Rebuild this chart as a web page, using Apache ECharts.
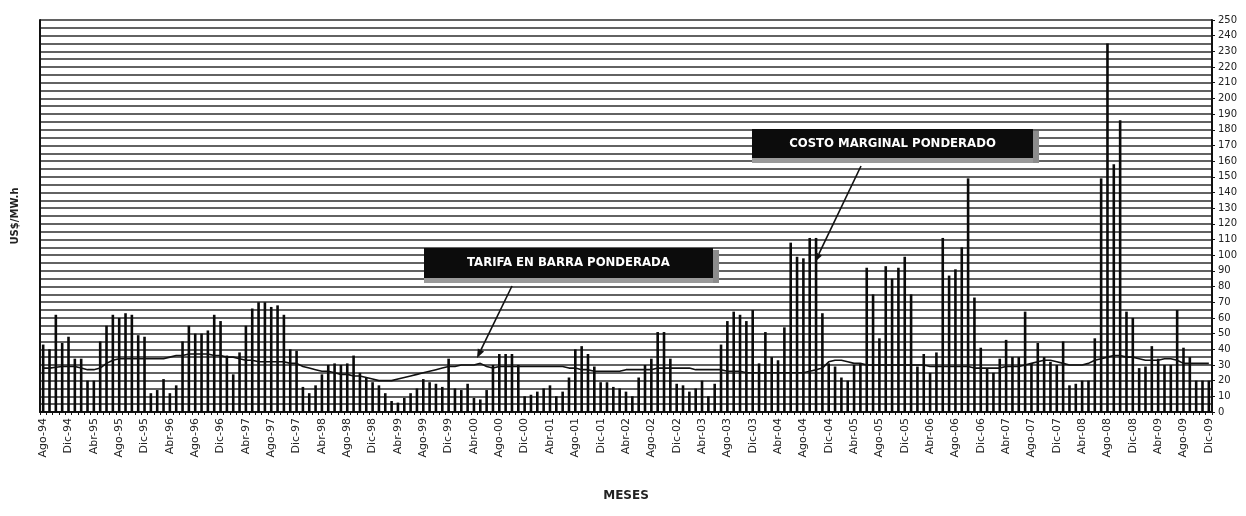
<!DOCTYPE html>
<html>
<head>
<meta charset="utf-8">
<title>Costo marginal y tarifa en barra ponderada</title>
<script src="https://cdn.jsdelivr.net/npm/echarts@6/dist/echarts.min.js"></script>
<style>
    html, body { margin: 0; padding: 0; background: #fff; }
    #chart { width: 1246px; height: 516px; }
</style>
</head>
<body>
<div id="chart"></div>
<script>
// Meses: Ago-94 .. Dic-09 (185 meses)
const nombresMes = ['Ene', 'Feb', 'Mar', 'Abr', 'May', 'Jun', 'Jul', 'Ago', 'Set', 'Oct', 'Nov', 'Dic'];
const anios = ['94', '95', '96', '97', '98', '99', '00', '01', '02', '03', '04', '05', '06', '07', '08', '09'];

// Costo marginal ponderado (US$/MW.h)
const costoMarginal = [
    43, 40, 62, 44, 48, 34, 34, 20, 20, 45,
    55, 62, 60, 63, 62, 49, 48, 12, 14, 21,
    12, 17, 45, 55, 50, 50, 52, 62, 58, 36,
    24, 38, 55, 66, 70, 70, 67, 68, 62, 40,
    39, 16, 12, 17, 24, 30, 31, 30, 31, 36,
    25, 22, 19, 17, 12, 7, 6, 9, 12, 15,
    21, 19, 18, 16, 34, 15, 14, 18, 9, 8,
    14, 30, 37, 37, 37, 30, 10, 11, 13, 15,
    17, 10, 13, 22, 40, 42, 37, 29, 19, 19,
    16, 15, 13, 10, 22, 30, 34, 51, 51, 34,
    18, 17, 13, 15, 20, 10, 18, 43, 58, 64,
    62, 58, 65, 31, 51, 35, 33, 54, 108, 99,
    98, 111, 111, 63, 31, 29, 22, 20, 30, 31,
    92, 75, 47, 93, 85, 92, 99, 75, 29, 37,
    25, 38, 111, 87, 91, 105, 149, 73, 41, 28,
    25, 34, 46, 35, 35, 64, 31, 44, 35, 32,
    30, 45, 17, 18, 20, 20, 47, 149, 235, 158,
    186, 64, 60, 28, 29, 42, 34, 30, 30, 65,
    41, 35, 20, 20, 20
];

// Tarifa en barra ponderada (US$/MW.h)
const tarifaBarra = [
    28, 28, 28.5, 29, 29, 29, 28, 27, 27, 28,
    31, 33, 34, 34, 34, 34, 34, 34, 34, 34,
    35, 36, 36, 37, 37, 37, 37, 36, 36, 35,
    35, 34, 33, 33, 32, 32, 32, 32, 32, 31,
    31, 29, 28, 27, 26, 26, 25, 24, 24, 23,
    23, 22, 21, 20, 20, 20, 21, 22, 23, 24,
    25, 26, 27, 28, 29, 29, 30, 30, 30, 31,
    29, 28, 29, 29, 29, 29, 29, 29, 29, 29,
    29, 29, 29, 28, 28, 27, 27, 26, 26, 26,
    26, 26, 27, 27, 27, 27, 27, 28, 28, 28,
    28, 28, 28, 27, 27, 27, 27, 27, 26, 26,
    26, 25, 25, 25, 25, 25, 25, 25, 25, 25,
    25, 26, 27, 28, 32, 33, 33, 32, 31, 31,
    30, 30, 30, 30, 30, 30, 30, 30, 30, 30,
    29, 29, 29, 29, 29, 29, 29, 28, 28, 28,
    28, 28, 29, 29, 29, 30, 31, 32, 33, 33,
    32, 31, 30, 30, 30, 31, 33, 34, 35, 36,
    36, 35, 35, 34, 33, 33, 33, 34, 34, 33,
    31, 31, 31, 31, 31
];

// categorías Ago-94 .. Dic-09
const meses = [];
anios.forEach((a, k) => {
    nombresMes.forEach((m, j) => {
        if (k === 0 && j < 7) return;
        meses.push(m + '-' + a);
    });
});

const chart = echarts.init(document.getElementById('chart'));

// flecha simple (línea + punta)
function flecha(x1, y1, x2, y2) {
    const dx = x2 - x1, dy = y2 - y1;
    const len = Math.sqrt(dx * dx + dy * dy);
    const ux = dx / len, uy = dy / len;
    const bx = x2 - ux * 9, by = y2 - uy * 9;
    const px = -uy * 3.5, py = ux * 3.5;
    return [
        { type: 'line', shape: { x1: x1, y1: y1, x2: bx, y2: by }, style: { stroke: '#111', lineWidth: 1.6 }, z: 100 },
        { type: 'polygon', shape: { points: [[x2, y2], [bx + px, by + py], [bx - px, by - py]] }, style: { fill: '#111' }, z: 100 }
    ];
}

// recuadro negro con texto blanco
function recuadro(x, y, w, h, texto) {
    return [
        { type: 'rect', shape: { x: x, y: y + h, width: w, height: 5 }, style: { fill: '#9a9a9a' }, z: 99 },
        { type: 'rect', shape: { x: x + w, y: y + 2, width: 6, height: h + 3 }, style: { fill: '#8c8c8c' }, z: 99 },
        { type: 'rect', shape: { x: x, y: y, width: w, height: h }, style: { fill: '#0c0c0c' }, z: 100 },
        {
            type: 'text', x: x + w / 2, y: y + h / 2, z: 101,
            style: {
                text: texto, fill: '#fff', align: 'center', verticalAlign: 'middle',
                font: 'bold 13px "DejaVu Sans Condensed", "Liberation Sans Narrow", sans-serif'
            }
        }
    ];
}

const lineaGrilla = { show: true, lineStyle: { color: '#2e2e2e', width: 1.7 } };

const option = {
    animation: false,
    backgroundColor: '#fff',
    grid: { left: 40, right: 34, top: 20, bottom: 104, containLabel: false },
    xAxis: {
        type: 'category',
        data: meses,
        name: 'MESES',
        nameLocation: 'middle',
        nameGap: 78,
        nameTextStyle: { fontFamily: 'DejaVu Sans', fontWeight: 'bold', fontSize: 12, color: '#222' },
        axisLine: { lineStyle: { color: '#111', width: 2 } },
        axisTick: { show: true, interval: 0, length: 3, lineStyle: { color: '#111' } },
        axisLabel: {
            interval: 3, rotate: 90, margin: 6,
            fontFamily: 'DejaVu Sans', fontSize: 11, color: '#222'
        },
        splitLine: { show: false }
    },
    yAxis: [
        {
            type: 'value',
            position: 'right',
            min: 0, max: 250, interval: 10,
            axisLine: { show: true, lineStyle: { color: '#111', width: 2 } },
            axisTick: { show: true, length: 3, lineStyle: { color: '#111' } },
            axisLabel: { margin: 6, fontFamily: 'DejaVu Sans', fontSize: 10, color: '#222' },
            splitLine: lineaGrilla,
            minorTick: { show: false, splitNumber: 2 },
            minorSplitLine: lineaGrilla
        },
        {
            type: 'value',
            position: 'left',
            min: 0, max: 250, interval: 10,
            name: 'US$/MW.h',
            nameLocation: 'middle',
            nameGap: 20,
            nameRotate: 90,
            nameTextStyle: { fontFamily: 'DejaVu Sans', fontWeight: 'bold', fontSize: 10, color: '#222' },
            axisLine: { show: true, lineStyle: { color: '#111', width: 2 } },
            axisTick: { show: false },
            axisLabel: { show: false },
            splitLine: { show: false }
        }
    ],
    series: [
        {
            name: 'Costo marginal ponderado',
            type: 'bar',
            yAxisIndex: 0,
            data: costoMarginal,
            barWidth: 2.6,
            itemStyle: { color: '#0a0a0a' },
            z: 3
        },
        {
            name: 'Tarifa en barra ponderada',
            type: 'line',
            yAxisIndex: 0,
            data: tarifaBarra,
            showSymbol: false,
            lineStyle: { color: '#111', width: 1.6 },
            z: 4
        }
    ],
    graphic: [].concat(
        recuadro(424, 248, 289, 30, 'TARIFA EN BARRA PONDERADA'),
        flecha(512, 286, 477, 358),
        recuadro(752, 129, 281, 29, 'COSTO MARGINAL PONDERADO'),
        flecha(861, 166, 815, 262)
    )
};

chart.setOption(option);
</script>
</body>
</html>
